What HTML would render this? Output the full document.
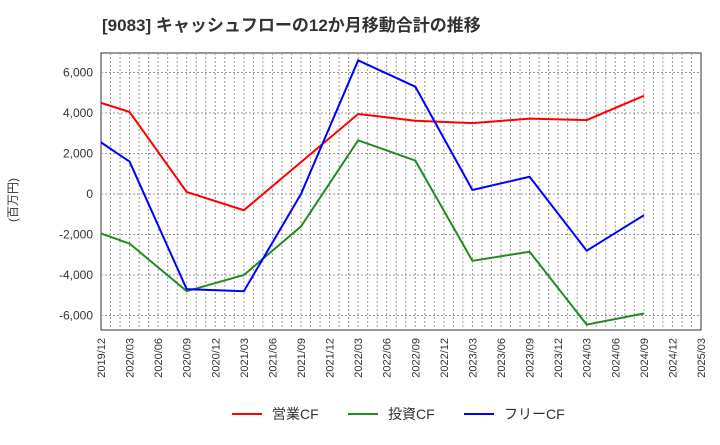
<!DOCTYPE html><html><head><meta charset="utf-8"><style>body{margin:0;background:#fff}svg{font-family:"Liberation Sans","Noto Sans CJK JP",sans-serif}</style></head><body>
<svg id="c" width="720" height="440" xmlns="http://www.w3.org/2000/svg">
<text x="102" y="31" font-size="17" font-weight="bold" fill="#333">[9083]  キャッシュフローの12か月移動合計の推移</text>
<text transform="translate(17,200) rotate(-90)" font-size="12" fill="#333" text-anchor="middle">(百万円)</text>
<g id="grid"></g><g id="axes"></g><g id="series"></g><g id="legend"></g>
</svg>
<script>
const categories=["2019/12","2020/03","2020/06","2020/09","2020/12","2021/03","2021/06","2021/09","2021/12","2022/03","2022/06","2022/09","2022/12","2023/03","2023/06","2023/09","2023/12","2024/03","2024/06","2024/09","2024/12","2025/03"];
const yTicks=[-6000,-4000,-2000,0,2000,4000,6000];
const opIdx=[0,1,3,5,9,11,13,15,17,19];
const opVals=[4500,4050,100,-800,3950,3620,3500,3720,3650,4850];
const invIdx=[0,1,3,5,7,9,11,13,15,17,19];
const invVals=[-1950,-2450,-4800,-4000,-1600,2650,1650,-3300,-2850,-6450,-5900];
const fcfIdx=[0,1,3,5,7,9,11,13,15,17,19];
const fcfVals=[2550,1600,-4700,-4800,0,6600,5300,200,850,-2800,-1050];
const L=101,R=701,T=53,B=330;
const x=i=>L+i*(R-L)/(categories.length-1);
const y=v=>194-v*0.02025;
const NS="http://www.w3.org/2000/svg";
function mk(p,t,a){const e=document.createElementNS(NS,t);for(const k in a)e.setAttribute(k,a[k]);p.appendChild(e);return e;}
const g=document.getElementById('grid'),ax=document.getElementById('axes'),s=document.getElementById('series'),lg=document.getElementById('legend');
mk(g,'rect',{x:L,y:T,width:R-L,height:B-T,fill:'#fff',stroke:'#333'});
for(let m=1;m<(categories.length-1)*3;m++){const xx=L+m*(R-L)/((categories.length-1)*3);
const l=mk(g,'line',{x1:xx,x2:xx,y1:T,y2:B,stroke:'#999','stroke-dasharray':'2,2'});

}
yTicks.forEach(v=>{const l=mk(g,'line',{x1:L,x2:R,y1:y(v),y2:y(v),stroke:'#999','stroke-dasharray':'2,2'});


const t=mk(ax,'text',{x:L-8,y:y(v)+4,'text-anchor':'end','font-size':12,fill:'#333'});t.textContent=v.toLocaleString('en-US');

});
categories.forEach((c,i)=>{const t=mk(ax,'text',{transform:`translate(${x(i)+4},${B+8}) rotate(-90)`,'text-anchor':'end','font-size':11,fill:'#333'});t.textContent=c;

});
function line(idx,vals,col,name){const p=mk(s,'polyline',{points:idx.map((i,k)=>x(i)+','+y(vals[k])).join(' '),fill:'none',stroke:col,'stroke-width':2});

}
line(opIdx,opVals,'#f00','operating-cf-line');
line(invIdx,invVals,'#228b22','investing-cf-line');
line(fcfIdx,fcfVals,'#00f','free-cf-line');
[['営業CF','#f00',232,'legend-operating-cf'],['投資CF','#228b22',348,'legend-investing-cf'],['フリーCF','#00f',464,'legend-free-cf']].forEach(([n,c,lx,dn])=>{
const e=mk(lg,'g',{});


mk(e,'line',{x1:lx,x2:lx+30,y1:414,y2:414,stroke:c,'stroke-width':2});
const t=mk(e,'text',{x:lx+40,y:419,'font-size':14,fill:'#333'});t.textContent=n;});
</script></body></html>
